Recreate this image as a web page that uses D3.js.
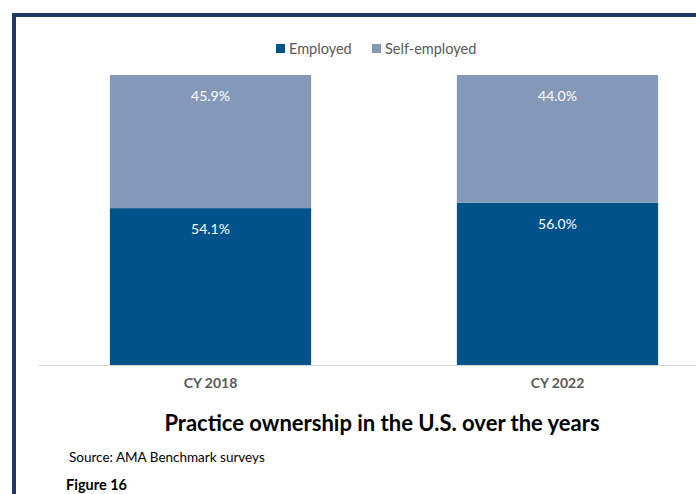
<!DOCTYPE html>
<html lang="en">
  <head>
    <meta charset="utf-8">
    <script type="text/javascript" src="https://d3js.org/d3.v7.min.js"></script>
    <title>Practice ownership in the U.S. over the years</title>
    <style>
      body { margin: 0; background: #fff; }
      text { font-family: Lato, "Open Sans", sans-serif; }
    </style>
  </head>
  <body>
    <script type="text/javascript">

    var years = ["CY 2018", "CY 2022"];
    var employed = [54.1, 56.0];
    var selfEmployed = [45.9, 44.0];
    var seriesNames = ["Employed", "Self-employed"];
    var colors = ["#00538a", "#8499b8"];

    var width = 696, height = 494;

    var svg = d3.select("body")
      .append("svg")
        .attr("width", width)
        .attr("height", height);

    // frame (only top and left edge show in the crop)
    svg.append("path")
      .attr("d", "M14,494 L14,15 L696,15")
      .attr("fill", "none")
      .attr("stroke", "#1f3864")
      .attr("stroke-width", 4);

    var x = d3.scaleBand()
      .domain(years)
      .range([37, 731])
      .paddingInner(0.42)
      .paddingOuter(0.21);

    var y = d3.scaleLinear()
      .domain([0, 100])
      .range([365, 75]);

    var data = years.map(function(d, i) {
      return {year: d, "Employed": employed[i], "Self-employed": selfEmployed[i]};
    });

    var stack = d3.stack().keys(seriesNames)(data);

    // baseline
    svg.append("line")
      .attr("x1", 39).attr("x2", width)
      .attr("y1", y(0) + 0.5).attr("y2", y(0) + 0.5)
      .attr("stroke", "#d9d9d9")
      .attr("stroke-width", 1);

    var layers = svg.selectAll(".layer")
      .data(stack)
      .enter().append("g")
        .attr("class", "layer")
        .attr("fill", function(d, i) { return colors[i]; });

    layers.selectAll("rect")
      .data(function(d) { return d; })
      .enter().append("rect")
        .attr("x", function(d) { return x(d.data.year); })
        .attr("width", x.bandwidth())
        .attr("y", function(d) { return y(d[1]); })
        .attr("height", function(d) { return y(d[0]) - y(d[1]); });

    // value labels near the top of each segment
    layers.selectAll(".val")
      .data(function(d) { return d; })
      .enter().append("text")
        .attr("class", "val")
        .attr("x", function(d) { return x(d.data.year) + x.bandwidth() / 2; })
        .attr("y", function(d) { return y(d[1]) + 26; })
        .attr("text-anchor", "middle")
        .attr("fill", "#fff")
        .style("font-size", "14px")
        .text(function(d) { return (d[1] - d[0]).toFixed(1) + "%"; });

    // x axis
    var xAxis = svg.append("g")
      .attr("transform", "translate(0," + y(0) + ")")
      .call(d3.axisBottom(x).tickSize(0).tickPadding(13));
    xAxis.select(".domain").remove();
    xAxis.selectAll("text")
      .style("font-size", "14px")
      .style("font-weight", "bold")
      .style("font-family", "Lato, sans-serif")
      .attr("fill", "#595959");

    // legend
    var legendX = [276, 372];
    var legend = svg.selectAll(".legend")
      .data(seriesNames)
      .enter().append("g")
        .attr("class", "legend")
        .attr("transform", function(d, i) { return "translate(" + legendX[i] + ",44)"; });
    legend.append("rect")
      .attr("width", 9).attr("height", 9)
      .attr("fill", function(d, i) { return colors[i]; });
    legend.append("text")
      .attr("x", 13).attr("y", 10)
      .attr("fill", "#595959")
      .style("font-size", "14.5px")
      .text(function(d) { return d; });

    // title and notes
    svg.append("text")
      .attr("x", 382).attr("y", 431)
      .attr("text-anchor", "middle")
      .attr("fill", "#000")
      .style("font-size", "22px")
      .style("font-weight", "bold")
      .text("Practice ownership in the U.S. over the years");

    svg.append("text")
      .attr("x", 69).attr("y", 462)
      .attr("fill", "#000")
      .style("font-size", "13.5px")
      .text("Source: AMA Benchmark surveys");

    svg.append("text")
      .attr("x", 66).attr("y", 490)
      .attr("fill", "#000")
      .style("font-size", "14.5px")
      .style("font-weight", "bold")
      .text("Figure 16");

    </script>
  </body>
</html>
